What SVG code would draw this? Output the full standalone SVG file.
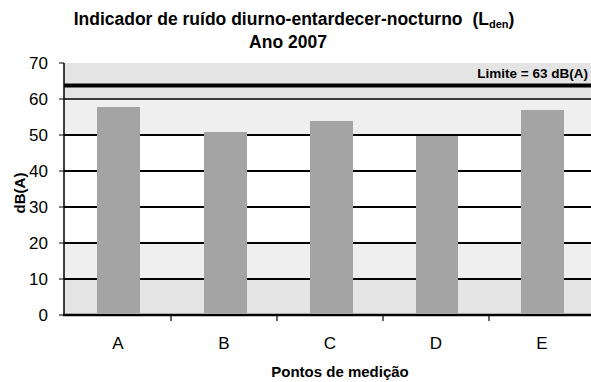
<svg xmlns="http://www.w3.org/2000/svg" width="591" height="382" viewBox="0 0 591 382">
<style>
text{font-family:"Liberation Sans",Arial,sans-serif;fill:#000}
.title{font-size:17.5px;font-weight:bold}
.tick{font-size:17px;text-anchor:end}
.cat{font-size:17px;text-anchor:middle}
.axt{font-size:15px;font-weight:bold;text-anchor:middle}
.grid{stroke:#000;stroke-width:2}
.bar{fill:#a4a4a4}
.band1{fill:#e4e4e4}
.band2{fill:#efefef}
</style>
<rect width="591" height="382" fill="#fff"/>
<g id="plot-background">
<rect class="band1" x="64" y="63" width="527" height="36"/>
<rect class="band2" x="64" y="99" width="527" height="36"/>
<rect class="band2" x="64" y="243" width="527" height="36"/>
<rect class="band1" x="64" y="279" width="527" height="36"/>
</g>
<g id="gridlines">
<line class="grid" x1="64" y1="99" x2="591" y2="99" style="stroke-width:1.5"/>
<line class="grid" x1="64" y1="135" x2="591" y2="135"/>
<line class="grid" x1="64" y1="171" x2="591" y2="171"/>
<line class="grid" x1="64" y1="207" x2="591" y2="207"/>
<line class="grid" x1="64" y1="243" x2="591" y2="243"/>
<line class="grid" x1="64" y1="279" x2="591" y2="279"/>
</g>
<g id="bars">
<rect id="bar-A" class="bar" x="97" y="107" width="43" height="206"/>
<rect id="bar-B" class="bar" x="204" y="132" width="43" height="181"/>
<rect id="bar-C" class="bar" x="310" y="121" width="43" height="192"/>
<rect id="bar-D" class="bar" x="416" y="136" width="42" height="177"/>
<rect id="bar-E" class="bar" x="521" y="110" width="43" height="203"/>
</g>
<g id="limit">
<line x1="64" y1="85.5" x2="591" y2="85.5" stroke="#000" stroke-width="4"/>
<text x="588" y="78" style="font-size:13.5px;font-weight:bold;text-anchor:end">Limite = 63 dB(A)</text>
</g>
<g id="axes" stroke="#000" fill="none">
<line x1="64" y1="63" x2="64" y2="316" stroke-width="1.5"/>
<line x1="63" y1="315" x2="591" y2="315" stroke-width="2.5"/>
<path d="M59 63H64M59 99H64M59 135H64M59 171H64M59 207H64M59 243H64M59 279H64M59 315H64" stroke-width="1.2"/>
<path d="M171 315V321M277 315V321M383 315V321M489 315V321" stroke-width="1.2"/>
</g>
<g id="y-labels">
<text class="tick" x="48" y="69">70</text>
<text class="tick" x="48" y="105">60</text>
<text class="tick" x="48" y="141">50</text>
<text class="tick" x="48" y="177">40</text>
<text class="tick" x="48" y="213">30</text>
<text class="tick" x="48" y="249">20</text>
<text class="tick" x="48" y="285">10</text>
<text class="tick" x="48" y="321">0</text>
</g>
<g id="x-labels">
<text class="cat" x="118" y="349">A</text>
<text class="cat" x="224" y="349">B</text>
<text class="cat" x="330" y="349">C</text>
<text class="cat" x="436" y="349">D</text>
<text class="cat" x="542" y="349">E</text>
</g>
<text class="axt" x="340" y="377">Pontos de medição</text>
<text class="axt" transform="translate(24.5 193) rotate(-90)">dB(A)</text>
<g id="title">
<text class="title" x="294" y="25" text-anchor="middle">Indicador de ruído diurno-entardecer-nocturno <tspan dx="5">(L</tspan><tspan style="font-size:11px" dy="3">den</tspan><tspan dy="-3">)</tspan></text>
<text class="title" x="288" y="48" text-anchor="middle">Ano 2007</text>
</g>
</svg>
